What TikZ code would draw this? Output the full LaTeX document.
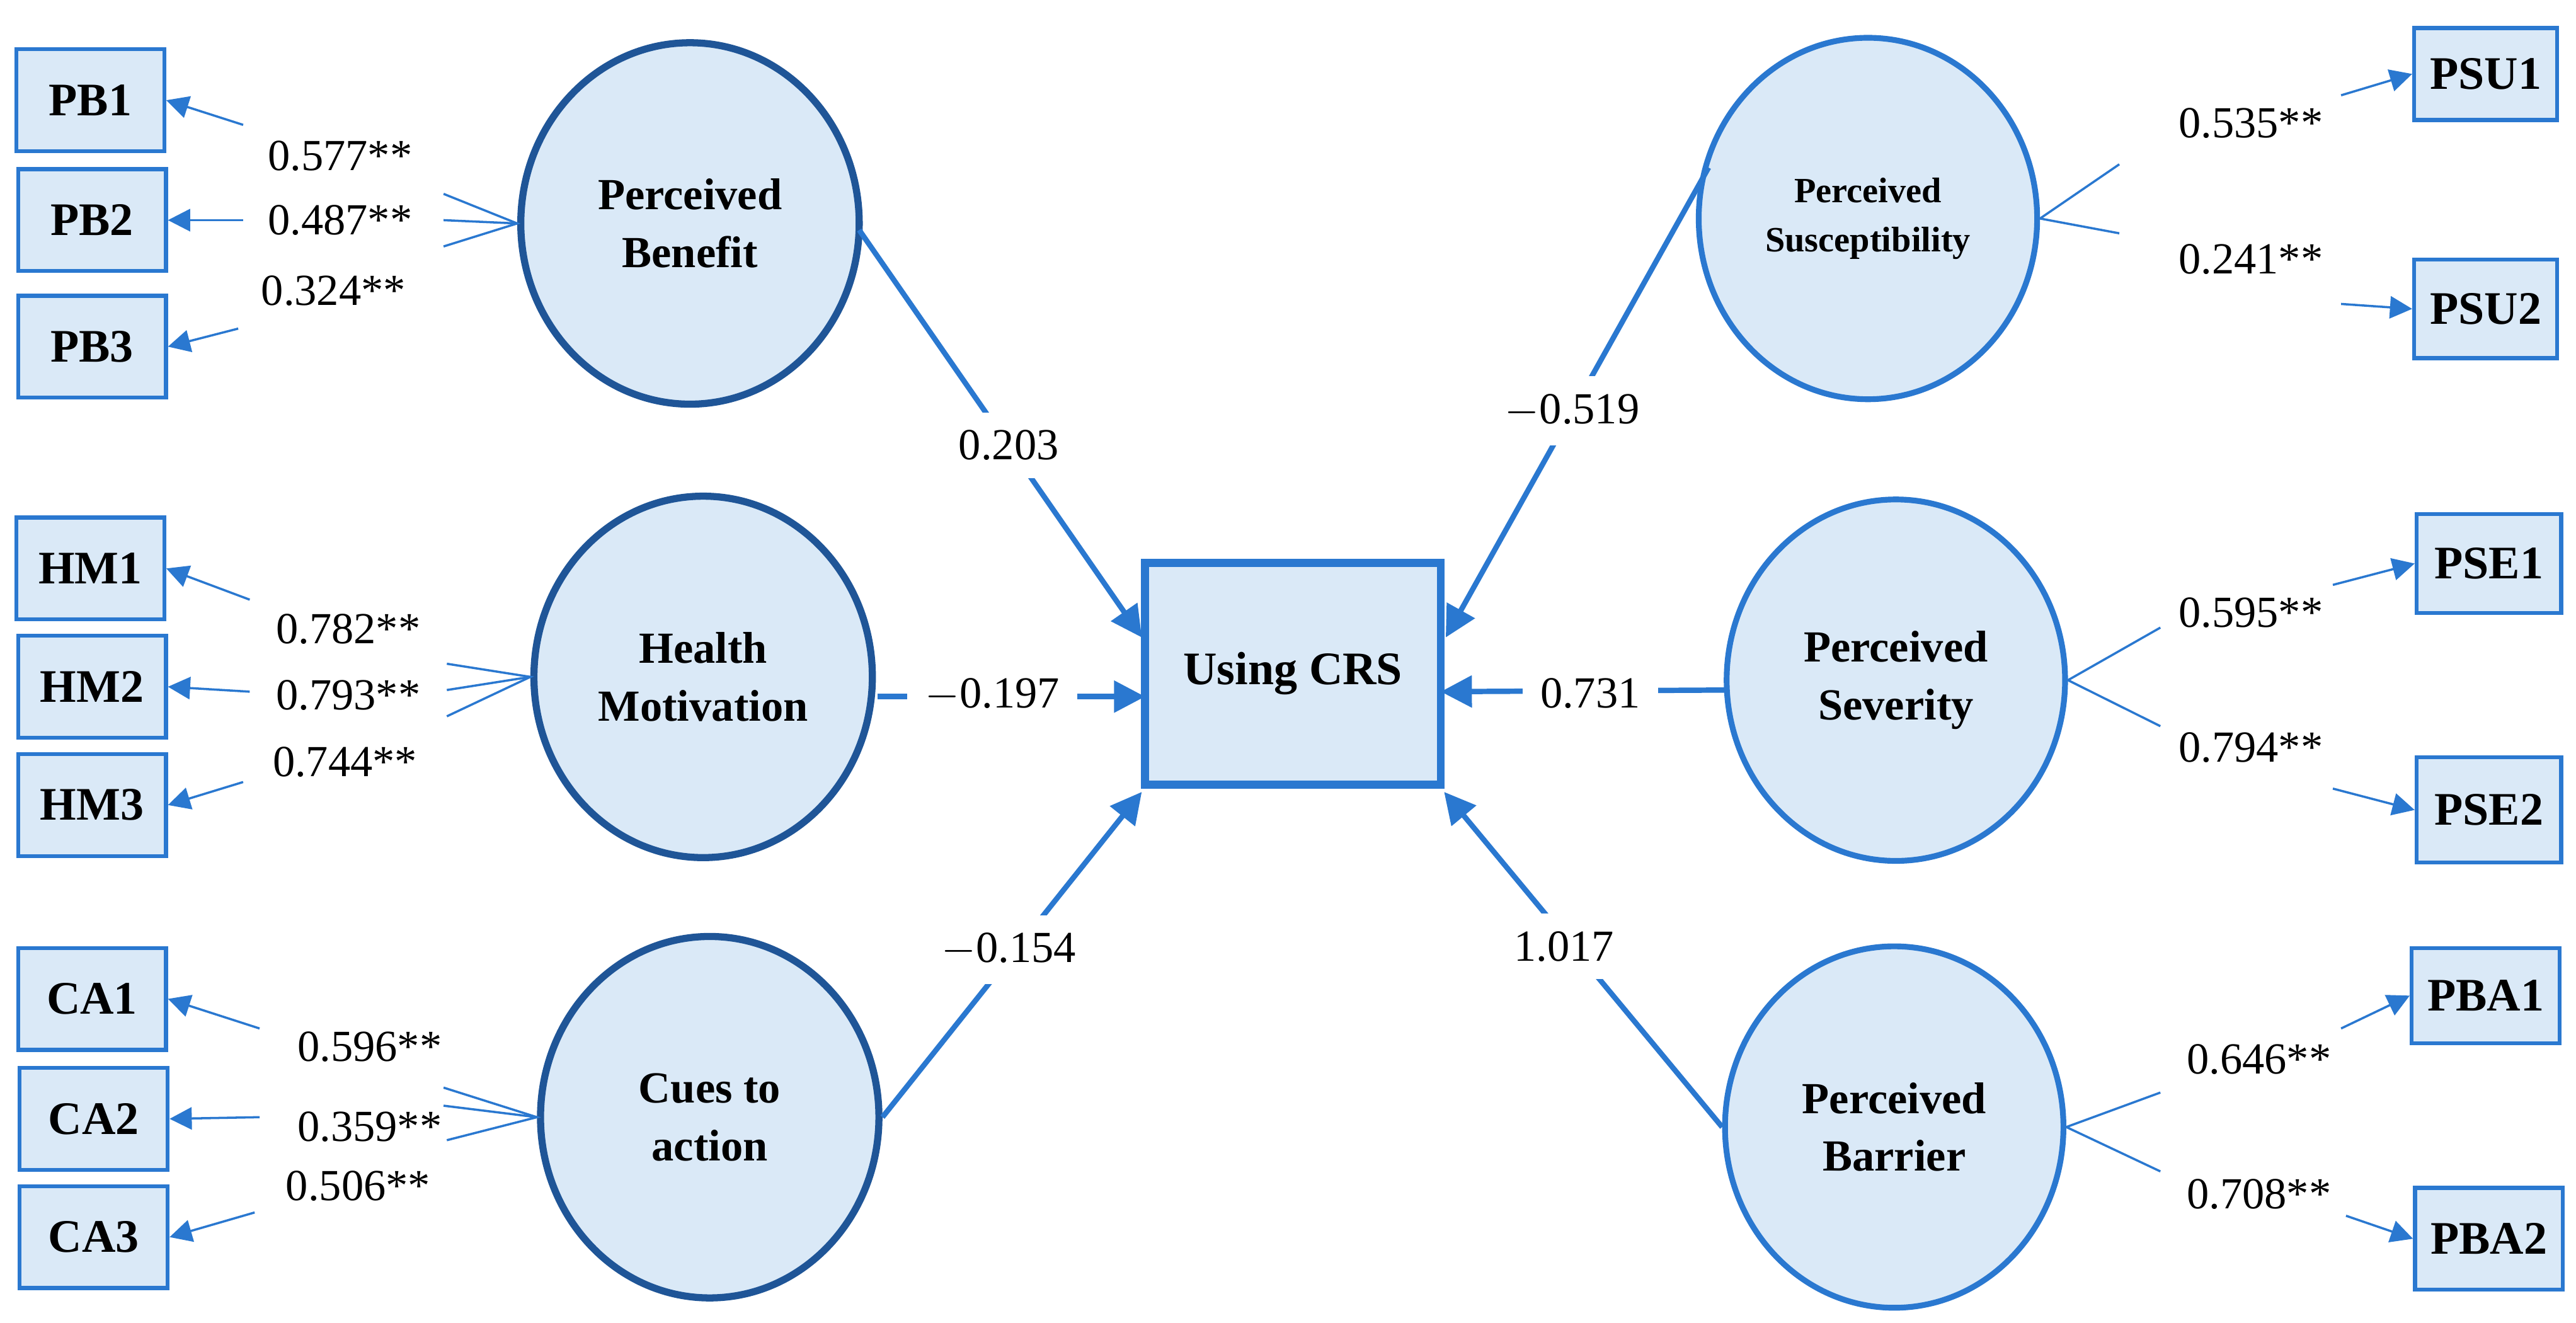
\documentclass[tikz,border=0pt]{standalone}
\usepackage{fontspec}
\setmainfont{Liberation Serif}
\usetikzlibrary{arrows.meta,shapes.geometric}
\definecolor{fillb}{HTML}{DAE9F7}
\definecolor{lineb}{HTML}{2A78D0}
\definecolor{darkb}{HTML}{1F5597}
\begin{document}
\begin{tikzpicture}[x=0.013cm,y=-0.013cm,
  ind/.style={draw=lineb,fill=fillb,line width=0.9pt,minimum width=90*0.013cm,minimum height=62*0.013cm,font=\fontsize{10.5}{12}\selectfont\bfseries,inner sep=0},
  latL/.style={ellipse,draw=darkb,fill=fillb,line width=1.6pt,minimum width=206*0.013cm,minimum height=220*0.013cm,font=\fontsize{10}{13}\selectfont\bfseries,align=center,inner sep=0},
  latR/.style={latL,draw=lineb,line width=1.3pt},
  num/.style={font=\fontsize{10}{12}\selectfont,inner sep=1pt},
  pnum/.style={num,fill=white,inner sep=4pt},
  thin/.style={draw=lineb,line width=0.5pt},
  load/.style={thin,-{Triangle[length=5pt,width=5pt]}},
  path/.style={draw=lineb,line width=1.2pt,-{Triangle[length=7pt,width=7pt]}}]
\path[use as bounding box] (0,0) rectangle (1568,805);
% center
\node[draw=lineb,fill=fillb,line width=1.8pt,minimum width=180*0.013cm,minimum height=135*0.013cm,font=\fontsize{10.5}{12}\selectfont\bfseries] (crs) at (787,410) {Using CRS};
% latents
\node[latL] (pb) at (420,136) {Perceived\\Benefit};
\node[latL] (hm) at (428,412) {Health\\Motivation};
\node[latL] (ca) at (432,680) {Cues to\\action};
\node[latR,font=\fontsize{8}{11}\selectfont\bfseries] (psu) at (1137,133) {Perceived\\Susceptibility};
\node[latR] (pse) at (1154,414) {Perceived\\Severity};
\node[latR] (pba) at (1153,686) {Perceived\\Barrier};
% indicators
\node[ind] (pb1) at (55,61) {PB1};
\node[ind] (pb2) at (56,134) {PB2};
\node[ind] (pb3) at (56,211) {PB3};
\node[ind] (hm1) at (55,346) {HM1};
\node[ind] (hm2) at (56,418) {HM2};
\node[ind] (hm3) at (56,490) {HM3};
\node[ind] (ca1) at (56,608) {CA1};
\node[ind] (ca2) at (57,681) {CA2};
\node[ind] (ca3) at (57,753) {CA3};
\node[ind,minimum width=87*0.013cm,minimum height=56*0.013cm] (psu1) at (1513,45) {PSU1};
\node[ind,minimum width=87*0.013cm,minimum height=60*0.013cm] (psu2) at (1513,188) {PSU2};
\node[ind,minimum width=88*0.013cm,minimum height=60*0.013cm] (pse1) at (1515,343) {PSE1};
\node[ind,minimum width=88*0.013cm,minimum height=64*0.013cm] (pse2) at (1515,493) {PSE2};
\node[ind,minimum width=90*0.013cm,minimum height=58*0.013cm] (pba1) at (1513,606) {PBA1};
\node[ind,minimum width=90*0.013cm,minimum height=62*0.013cm] (pba2) at (1515,754) {PBA2};
% structural paths
\coordinate (c1) at (695,388); \coordinate (c2) at (697,424); \coordinate (c3) at (695,482);
\coordinate (c4) at (880,388); \coordinate (c5) at (877,421); \coordinate (c6) at (879,482);
\coordinate (s1) at (523,140); \coordinate (s4) at (1040,102);
\coordinate (s2) at (534,424); \coordinate (s5) at (1051,420);
\draw[path] (s1) -- (c1);
\draw[path] (s2) -- (c2);
\draw[path] (ca.east) -- (c3);
\draw[path] (s4) -- (c4);
\draw[path] (s5) -- (c5);
\draw[path] (pba.west) -- (c6);
\node[pnum] at (614,271) {0.203};
\node[pnum] at (604,423) {$-$0.197};
\node[pnum] at (614,578) {$-$0.154};
\node[pnum] at (957,250) {$-$0.519};
\node[pnum] at (968,422) {0.731};
\node[pnum] at (952,576) {1.017};
% left loadings
\draw[thin] (270,118) -- (pb.west) -- (270,150); \draw[thin] (270,134) -- (pb.west);
\draw[thin] (272,404) -- (hm.west) -- (272,436); \draw[thin] (272,420) -- (hm.west);
\draw[thin] (270,662) -- (ca.west) -- (272,694); \draw[thin] (270,673) -- (ca.west);
\coordinate (a1) at (148,76); \coordinate (a2) at (148,134); \coordinate (a3) at (145,200);
\draw[load] (a1) -- (pb1.east); \draw[load] (a2) -- (pb2.east); \draw[load] (a3) -- (pb3.east);
\coordinate (a4) at (152,365); \coordinate (a5) at (152,421); \coordinate (a6) at (148,476);
\draw[load] (a4) -- (hm1.east); \draw[load] (a5) -- (hm2.east); \draw[load] (a6) -- (hm3.east);
\coordinate (a7) at (158,626); \coordinate (a8) at (158,680); \coordinate (a9) at (155,738);
\draw[load] (a7) -- (ca1.east); \draw[load] (a8) -- (ca2.east); \draw[load] (a9) -- (ca3.east);
\node[num] at (207,95) {0.577**}; \node[num] at (207,134) {0.487**}; \node[num] at (203,177) {0.324**};
\node[num] at (212,383) {0.782**}; \node[num] at (212,423) {0.793**}; \node[num] at (210,464) {0.744**};
\node[num] at (225,637) {0.596**}; \node[num] at (225,686) {0.359**}; \node[num] at (218,722) {0.506**};
% right loadings
\draw[thin] (1290,100) -- (psu.east) -- (1290,142);
\draw[thin] (1315,382) -- (pse.east) -- (1315,442);
\draw[thin] (1315,665) -- (pba.east) -- (1315,713);
\coordinate (b1) at (1425,58); \coordinate (b2) at (1425,185);
\coordinate (b3) at (1420,356); \coordinate (b4) at (1420,480);
\coordinate (b5) at (1425,626); \coordinate (b6) at (1428,740);
\draw[load] (b1) -- (psu1.west); \draw[load] (b2) -- (psu2.west);
\draw[load] (b3) -- (pse1.west); \draw[load] (b4) -- (pse2.west);
\draw[load] (b5) -- (pba1.west); \draw[load] (b6) -- (pba2.west);
\node[num] at (1370,75) {0.535**}; \node[num] at (1370,158) {0.241**};
\node[num] at (1370,373) {0.595**}; \node[num] at (1370,455) {0.794**};
\node[num] at (1375,645) {0.646**}; \node[num] at (1375,727) {0.708**};
\end{tikzpicture}
\end{document}
